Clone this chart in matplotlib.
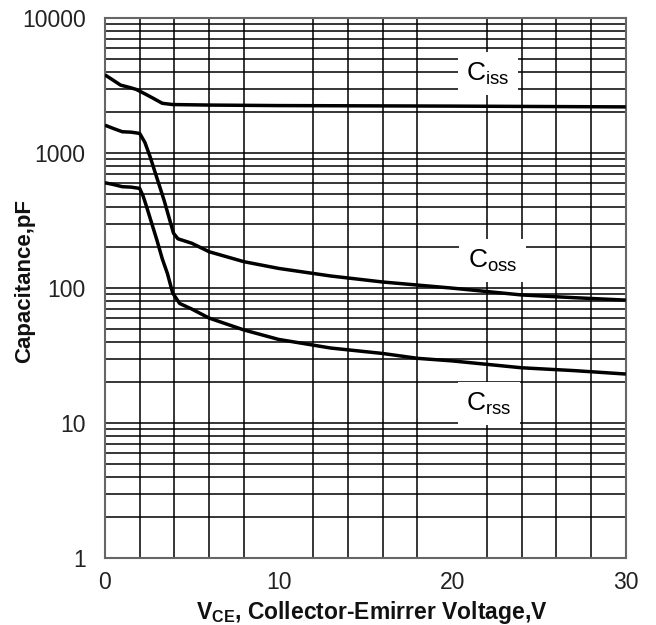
import numpy as np
import matplotlib
matplotlib.use('Agg')
from matplotlib import pyplot as plt
from matplotlib.ticker import FixedLocator, NullFormatter

plt.rcParams['font.family'] = ['Liberation Sans', 'DejaVu Sans']

# values (V, pF)
ciss_v = [0, 0.5, 0.9, 1.4, 1.8, 2.3, 2.8, 3.3, 3.9, 6, 10, 15, 20, 25, 30]
ciss_c = [3800, 3450, 3190, 3070, 2965, 2750, 2540, 2340, 2290, 2270, 2250, 2240, 2230, 2215, 2200]

coss_v = [0, 0.5, 1.0, 1.5, 2.0, 2.3, 2.6, 3.0, 3.4, 3.7, 3.95, 4.2, 5, 6, 8, 10, 13, 16, 20, 24, 27, 30]
coss_c = [1610, 1520, 1440, 1430, 1400, 1200, 940, 650, 450, 330, 255, 232, 215, 186, 157, 140, 123, 111, 100, 89, 85, 81.5]

crss_v = [0, 0.5, 1.0, 1.5, 2.0, 2.2, 2.4, 2.7, 3.0, 3.3, 3.6, 3.9, 4.3, 5, 6, 8, 10, 13, 16, 18, 20, 24, 27, 30]
crss_c = [603, 585, 564, 560, 548, 480, 400, 300, 225, 165, 128, 92, 77, 70, 60, 49, 41.7, 36, 32.8, 30.2, 28.9, 25.7, 24.5, 23.1]

labels = ['iss', 'oss', 'rss']
label_pos = [(20.8, 3475), (20.9, 143), (20.8, 12.5)]

fig = plt.figure(figsize=(6.56, 6.25), dpi=100)
ax = fig.add_axes([0.160, 0.107, 0.794, 0.864])

ax.set_yscale('log')
ax.set_xlim(0, 30)
ax.set_ylim(1, 10000)

ax.xaxis.set_major_locator(FixedLocator([0, 10, 20, 30]))
ax.xaxis.set_minor_locator(FixedLocator(np.arange(0, 31, 2)))
ax.yaxis.set_major_locator(FixedLocator([1, 10, 100, 1000, 10000]))
ax.yaxis.set_minor_locator(FixedLocator([m * 10 ** d for d in range(4) for m in range(2, 10)]))
ax.yaxis.set_minor_formatter(NullFormatter())
ax.set_yticklabels(['1', '10', '100', '1000', '10000'])
ax.set_xticklabels(['0', '10', '20', '30'])

ax.grid(True, which='minor', color='black', linewidth=1.1)
ax.grid(True, which='major', axis='y', color='black', linewidth=1.1)
ax.set_axisbelow(True)
ax.tick_params(which='both', length=0)
ax.tick_params(axis='y', pad=14, labelsize=16.5, colors='#222222')
ax.tick_params(axis='x', pad=9, labelsize=16.5, colors='#222222')
for s in ax.spines.values():
    s.set_color('#666666')
    s.set_linewidth(1.5)

for v, c in [(ciss_v, ciss_c), (coss_v, coss_c), (crss_v, crss_c)]:
    ax.plot(v, c, color='black', linewidth=2.5, solid_capstyle='butt', zorder=3)

for sub, (x, y) in zip(labels, label_pos):
    ax.text(x, y, r'C$_{\mathregular{' + sub + '}}$', fontsize=19, va='baseline', ha='left',
            zorder=4, bbox=dict(facecolor='white', edgecolor='none', pad=6))

ax.text(-0.1536, 0.513, 'Capacitance,pF', transform=ax.transAxes, rotation=90,
        ha='center', va='center', fontsize=16, fontweight='bold', color='#111111')
ax.text(0.512, -0.10, r'V$_{\mathregular{CE}}$, Collector-Emirrer Voltage,V', transform=ax.transAxes,
        ha='center', va='center', fontsize=16.5, fontweight='bold', color='#111111')

fig.savefig('out.png', dpi=100)
